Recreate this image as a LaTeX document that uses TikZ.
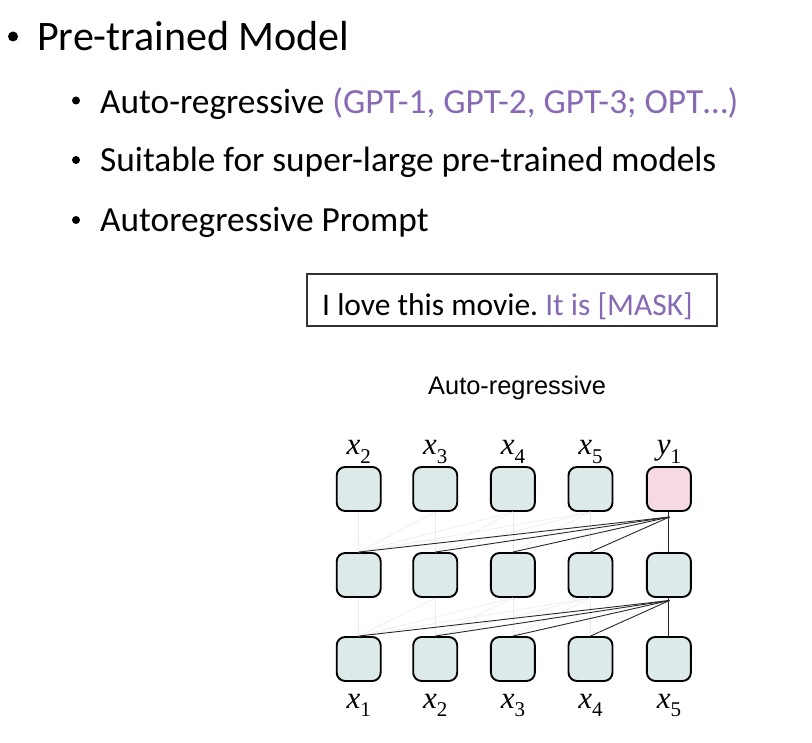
\documentclass[tikz,border=0pt]{standalone}
\usepackage{fontspec}
\setmainfont{Carlito}
\newfontfamily\helv{Liberation Sans}
\newfontfamily\tnr{Liberation Serif}
\definecolor{purp}{RGB}{135,105,180}
\definecolor{cellfill}{RGB}{221,234,234}
\definecolor{pinkfill}{RGB}{246,218,226}
\definecolor{edgecol}{RGB}{40,40,40}
\newcommand{\mylab}[2]{{\tnr\itshape #1}\raisebox{-0.28em}{\tnr\fontsize{21}{21}\selectfont #2}}
\frenchspacing
\begin{document}
\begin{tikzpicture}[x=1pt,y=-1pt,
  txt/.style={inner sep=0pt,anchor=base west},
  dot/.style={circle,fill=black,inner sep=0pt},
  cell/.style={draw=black,line width=1.9pt,rounded corners=8.5pt,fill=cellfill,minimum width=44pt,minimum height=44pt,inner sep=0pt},
  pcell/.style={cell,fill=pinkfill},
  lab/.style={inner sep=0pt,anchor=base,font=\fontsize{31}{31}\selectfont},
  conn/.style={draw=edgecol,line width=0.9pt},
  faint/.style={draw=black!8,line width=0.6pt}]
\useasboundingbox[fill=white] (0,0) rectangle (812,743);
% bullets
\node[dot,minimum size=10pt] (b0) at (13,36.5) {};
\node[txt,font=\fontsize{42}{42}\selectfont] (t0) at (37,50.5) {Pre-trained Model};
\node[dot,minimum size=8pt] (b1) at (76,100.5) {};
\node[txt,font=\fontsize{35.3}{35.3}\selectfont] (t1) at (100,113.3) {Auto-regressive \textcolor{purp}{(GPT-1, GPT-2, GPT-3; OPT…)}};
\node[dot,minimum size=8pt] (b2) at (76,160) {};
\node[txt,font=\fontsize{35.3}{35.3}\selectfont] (t2) at (100,171.7) {Suitable for super-large pre-trained models};
\node[dot,minimum size=8pt] (b3) at (76,220) {};
\node[txt,font=\fontsize{35.3}{35.3}\selectfont] (t3) at (100,231.7) {Autoregressive Prompt};
% prompt box
\draw[line width=1.3pt,draw=black!80] (307,274) rectangle (717,326);
\node[txt,font=\fontsize{31.5}{31.5}\selectfont] (pr) at (322,315.5) {I love this movie. \textcolor{purp}{It is [MASK]}};
\node[txt,font=\helv\fontsize{25.4}{25.4}\selectfont] (ar) at (428,395) {Auto-regressive};
% cells
\foreach \i/\x in {1/358.7,2/435.2,3/512.9,4/590.5,5/668.9}{
  \node[cell] (m\i) at (\x,575) {};
  \node[cell] (b\i) at (\x,659) {};
}
\foreach \i/\x in {1/358.7,2/435.2,3/512.9,4/590.5}{
  \node[cell] (u\i) at (\x,489) {};
}
\node[pcell] (u5) at (668.9,489) {};
% faint connections
\foreach \k in {1,...,4}{
  \foreach \j in {1,...,\k}{
    \draw[faint] (u\k.south) -- (m\j.north);
    \draw[faint] (m\k.south) -- (b\j.north);
  }
}
% strong connections
\coordinate (c1) at (669.5,517);
\coordinate (c2) at (669.5,600.5);
\foreach \j in {1,...,4}{
  \draw[conn] (c1) -- (m\j.north);
  \draw[conn] (c2) -- (b\j.north);
}
\draw[conn] (u5.south) -- (m5.north);
\draw[conn] (m5.south) -- (b5.north);
% labels
\node[lab] (lu1) at (358.7,455) {\mylab{x}{2}};
\node[lab] (lu2) at (435.2,455) {\mylab{x}{3}};
\node[lab] (lu3) at (512.9,455) {\mylab{x}{4}};
\node[lab] (lu4) at (590.5,455) {\mylab{x}{5}};
\node[lab] (lu5) at (668.9,455) {\mylab{y}{1}};
\node[lab] (lb1) at (358.7,708) {\mylab{x}{1}};
\node[lab] (lb2) at (435.2,708) {\mylab{x}{2}};
\node[lab] (lb3) at (512.9,708) {\mylab{x}{3}};
\node[lab] (lb4) at (590.5,708) {\mylab{x}{4}};
\node[lab] (lb5) at (668.9,708) {\mylab{x}{5}};
\end{tikzpicture}
\end{document}
